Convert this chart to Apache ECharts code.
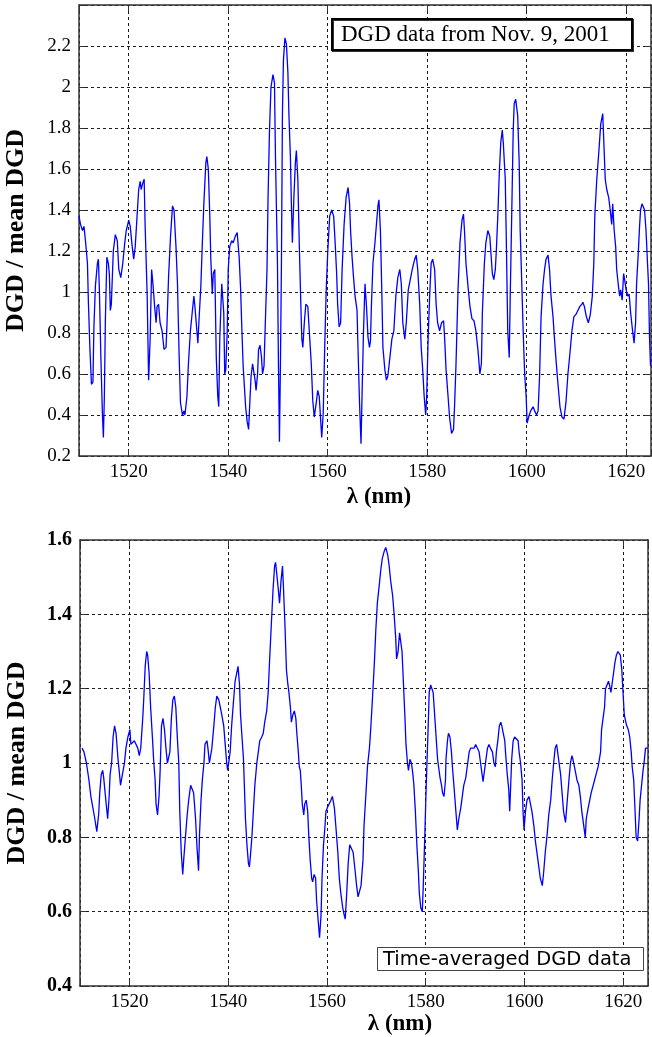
<!DOCTYPE html>
<html>
<head>
<meta charset="utf-8">
<script src="https://cdn.jsdelivr.net/npm/echarts@6/dist/echarts.min.js"></script>
<style>
  html, body { margin: 0; padding: 0; background: #fff; }
  #chart { width: 652px; height: 1037px; }
</style>
</head>
<body>
<div id="chart"></div>
<script>
// DGD / mean DGD versus wavelength (nm), single-day data
const topDGD = [
  [1510.0,1.37],[1510.3,1.33],[1510.7,1.30],[1511.0,1.32],[1511.3,1.25],[1511.7,1.14],[1511.9,0.94],[1512.2,0.72],[1512.5,0.55],[1512.8,0.56],
  [1513.0,0.83],[1513.3,1.03],[1513.7,1.14],[1513.9,1.16],[1514.1,1.01],[1514.4,0.68],[1514.7,0.41],[1514.9,0.29],[1515.1,0.49],[1515.3,0.86],
  [1515.6,1.17],[1515.9,1.14],[1516.1,1.09],[1516.3,0.91],[1516.5,0.94],[1516.9,1.20],[1517.3,1.28],[1517.7,1.25],[1518.0,1.11],[1518.4,1.07],
  [1518.8,1.14],[1519.2,1.24],[1519.5,1.30],[1520.0,1.35],[1520.3,1.32],[1520.7,1.22],[1521.0,1.16],[1521.3,1.22],[1521.7,1.38],[1522.0,1.50],
  [1522.3,1.54],[1522.5,1.50],[1522.8,1.53],[1523.1,1.55],[1523.3,1.32],[1523.7,0.99],[1524.0,0.57],[1524.3,0.77],[1524.6,1.11],[1524.9,1.03],
  [1525.2,0.93],[1525.5,0.85],[1525.7,0.93],[1526.0,0.94],[1526.3,0.85],[1526.7,0.81],[1527.1,0.72],[1527.5,0.73],[1527.7,0.85],[1528.0,1.07],
  [1528.4,1.27],[1528.8,1.42],[1529.1,1.40],[1529.5,1.22],[1529.8,1.04],[1530.1,0.72],[1530.4,0.46],[1530.8,0.40],[1531.1,0.42],[1531.3,0.40],
  [1531.7,0.49],[1532.0,0.65],[1532.4,0.81],[1532.8,0.91],[1533.1,0.98],[1533.3,0.93],[1533.7,0.81],[1533.9,0.75],[1534.1,0.85],[1534.5,1.03],
  [1534.8,1.24],[1535.1,1.43],[1535.5,1.63],[1535.7,1.66],[1536.0,1.60],[1536.3,1.37],[1536.5,1.16],[1536.8,0.99],[1537.0,1.09],[1537.3,1.11],
  [1537.6,0.68],[1537.9,0.49],[1538.1,0.44],[1538.3,0.77],[1538.7,1.04],[1539.1,0.90],[1539.3,0.60],[1539.5,0.62],[1539.8,0.81],
  [1540.0,1.11],[1540.3,1.22],[1540.7,1.25],[1541.0,1.24],[1541.4,1.27],[1541.8,1.29],[1542.2,1.17],[1542.5,1.01],[1542.7,0.85],[1543.0,0.64],
  [1543.3,0.52],[1543.5,0.44],[1543.8,0.37],[1544.1,0.33],[1544.4,0.49],[1544.6,0.59],[1544.9,0.65],[1545.2,0.65],[1545.4,0.57],[1545.6,0.52],
  [1545.9,0.60],[1546.1,0.72],[1546.4,0.74],[1546.7,0.68],[1546.9,0.60],[1547.2,0.64],[1547.5,0.88],[1547.8,1.11],[1548.0,1.45],[1548.3,1.79],
  [1548.6,2.00],[1549.0,2.06],[1549.3,2.02],[1549.5,1.66],[1549.9,1.14],[1550.1,0.65],[1550.3,0.27],[1550.5,0.65],[1550.7,1.14],[1550.9,1.87],
  [1551.1,2.13],[1551.4,2.24],[1551.7,2.21],[1552.0,2.07],[1552.2,1.87],[1552.5,1.66],[1552.7,1.43],[1552.9,1.24],[1553.2,1.46],[1553.5,1.63],
  [1553.7,1.69],[1554.0,1.55],[1554.3,1.22],[1554.6,0.94],[1554.8,0.77],[1555.0,0.73],[1555.3,0.85],[1555.6,0.94],[1556.0,0.93],[1556.3,0.81],
  [1556.7,0.65],[1557.0,0.47],[1557.3,0.39],[1557.7,0.46],[1558.0,0.52],[1558.3,0.49],[1558.6,0.37],[1558.8,0.29],[1559.1,0.41],[1559.4,0.73],
  [1559.7,1.01],[1560.0,1.19],[1560.4,1.37],[1560.8,1.40],[1561.2,1.37],[1561.5,1.24],[1561.8,1.09],[1562.0,0.94],[1562.3,0.83],[1562.6,0.85],
  [1562.9,1.11],[1563.3,1.33],[1563.7,1.46],[1564.1,1.51],[1564.4,1.43],[1564.6,1.30],[1564.9,1.17],[1565.2,1.07],[1565.5,0.98],[1565.9,0.91],
  [1566.1,0.72],[1566.4,0.46],[1566.7,0.26],[1566.9,0.49],[1567.2,0.81],[1567.5,1.04],[1567.8,0.93],[1568.1,0.78],[1568.4,0.73],[1568.6,0.76],
  [1568.8,0.94],[1569.1,1.14],[1569.5,1.24],[1569.8,1.33],[1570.1,1.42],[1570.3,1.45],[1570.6,1.30],[1570.9,0.98],[1571.1,0.73],[1571.5,0.62],
  [1571.8,0.57],[1572.1,0.59],[1572.5,0.68],[1572.9,0.77],[1573.3,0.81],[1573.7,0.98],[1574.1,1.07],[1574.5,1.11],[1574.8,1.04],[1575.1,0.85],
  [1575.5,0.77],[1575.8,0.85],[1576.2,1.01],[1576.6,1.06],[1577.0,1.11],[1577.5,1.16],[1577.8,1.18],[1578.1,1.11],[1578.5,0.94],[1578.8,0.73],
  [1579.1,0.62],[1579.4,0.49],[1579.7,0.40],[1579.9,0.49],[1580.2,0.78],[1580.5,0.98],[1580.8,1.14],[1581.1,1.16],[1581.5,1.11],[1581.8,0.94],
  [1582.1,0.85],[1582.5,0.81],[1582.9,0.85],[1583.3,0.86],[1583.5,0.78],[1583.8,0.62],[1584.2,0.49],[1584.5,0.39],[1584.9,0.31],[1585.3,0.33],
  [1585.5,0.44],[1585.8,0.65],[1586.2,1.01],[1586.6,1.24],[1587.0,1.35],[1587.3,1.38],[1587.5,1.30],[1587.8,1.14],[1588.2,1.03],[1588.6,0.93],
  [1589.0,0.87],[1589.4,0.86],[1589.8,0.81],[1590.2,0.72],[1590.6,0.60],[1590.9,0.65],[1591.1,0.90],[1591.5,1.14],[1591.8,1.24],[1592.2,1.30],
  [1592.6,1.27],[1592.9,1.16],[1593.1,1.09],[1593.4,1.06],[1593.7,1.11],[1593.9,1.20],[1594.2,1.37],[1594.5,1.58],[1594.8,1.73],[1595.1,1.79],
  [1595.3,1.73],[1595.7,1.55],[1595.9,1.27],[1596.2,0.81],[1596.5,0.68],[1596.7,0.98],[1597.0,1.38],[1597.3,1.79],[1597.5,1.92],[1597.8,1.94],
  [1598.2,1.86],[1598.5,1.63],[1598.7,1.30],[1599.0,1.06],[1599.3,0.81],[1599.6,0.60],[1599.9,0.49],[1600.1,0.36],[1600.4,0.39],[1600.8,0.42],
  [1601.3,0.44],[1601.6,0.42],[1602.0,0.40],[1602.3,0.42],[1602.6,0.59],[1602.9,0.88],[1603.3,1.04],[1603.6,1.11],[1603.9,1.16],[1604.3,1.18],
  [1604.6,1.11],[1604.9,0.98],[1605.3,0.88],[1605.6,0.77],[1605.9,0.67],[1606.3,0.55],[1606.7,0.44],[1607.1,0.39],[1607.5,0.38],[1607.9,0.46],
  [1608.3,0.60],[1608.7,0.70],[1609.1,0.81],[1609.5,0.88],[1609.9,0.89],[1610.3,0.91],[1610.7,0.93],[1611.1,0.94],[1611.3,0.95],[1611.6,0.93],
  [1612.0,0.88],[1612.4,0.85],[1612.8,0.89],[1613.2,0.98],[1613.5,1.14],[1613.7,1.37],[1614.1,1.55],[1614.5,1.68],[1614.9,1.82],[1615.3,1.87],
  [1615.5,1.74],[1615.8,1.55],[1616.1,1.50],[1616.5,1.46],[1616.8,1.40],[1617.1,1.33],[1617.3,1.43],[1617.6,1.30],[1617.9,1.22],[1618.1,1.11],
  [1618.4,1.04],[1618.7,0.98],[1618.9,1.01],[1619.2,0.96],[1619.5,1.09],[1619.7,1.06],[1620.0,1.01],[1620.3,0.98],[1620.6,0.99],[1620.9,0.90],
  [1621.3,0.81],[1621.6,0.75],[1621.9,0.85],[1622.1,1.04],[1622.4,1.17],[1622.7,1.32],[1622.9,1.40],[1623.2,1.43],[1623.5,1.43],[1623.7,1.40],
  [1624.0,1.30],[1624.3,1.14],[1624.5,1.04],[1624.7,0.78],[1624.9,0.64]
];

// time-averaged DGD / mean DGD versus wavelength (nm)
const avgDGD = [
  [1510.4,1.04],[1510.8,1.03],[1511.3,1.00],[1511.8,0.955],[1512.2,0.91],[1512.6,0.88],[1513.0,0.85],[1513.4,0.815],[1513.8,0.865],[1514.0,0.92],
  [1514.3,0.97],[1514.6,0.98],[1514.8,0.96],[1515.3,0.89],[1515.6,0.85],[1515.9,0.91],[1516.1,0.97],[1516.4,1.00],[1516.7,1.07],[1517.0,1.10],
  [1517.3,1.08],[1517.7,1.01],[1518.0,0.97],[1518.2,0.94],[1518.6,0.97],[1519.0,1.00],[1519.3,1.04],[1519.7,1.07],[1520.1,1.09],[1520.3,1.05],
  [1520.7,1.05],[1521.0,1.06],[1521.4,1.06],[1521.7,1.04],[1522.0,1.02],[1522.3,1.04],[1522.7,1.12],[1522.9,1.17],[1523.2,1.26],[1523.5,1.30],
  [1523.7,1.29],[1524.0,1.24],[1524.3,1.15],[1524.7,1.06],[1524.9,1.01],[1525.2,0.955],[1525.4,0.89],[1525.7,0.86],[1526.0,0.91],[1526.2,0.97],
  [1526.5,1.10],[1526.8,1.12],[1527.1,1.09],[1527.4,1.04],[1527.7,1.00],[1527.9,0.995],[1528.2,1.03],[1528.5,1.12],[1528.8,1.17],[1529.1,1.18],
  [1529.4,1.15],[1529.7,1.07],[1530.0,1.00],[1530.2,0.87],[1530.5,0.76],[1530.8,0.70],[1531.0,0.74],[1531.4,0.81],[1531.7,0.86],[1532.0,0.90],
  [1532.4,0.94],[1532.7,0.94],[1533.0,0.92],[1533.4,0.85],[1533.7,0.77],[1534.0,0.71],[1534.2,0.81],[1534.5,0.90],[1534.8,0.96],[1535.1,1.00],
  [1535.3,1.05],[1535.7,1.06],[1535.9,1.04],[1536.2,1.00],[1536.4,0.995],[1536.7,1.04],[1537.1,1.10],[1537.4,1.15],[1537.7,1.18],[1538.1,1.17],
  [1538.4,1.15],[1538.7,1.13],[1539.1,1.10],[1539.4,1.05],[1539.7,1.00],[1539.9,0.98],[1540.4,1.03],[1540.7,1.10],[1541.1,1.17],[1541.4,1.22],
  [1541.7,1.24],[1542.0,1.26],[1542.3,1.21],[1542.5,1.13],[1542.8,1.07],[1543.1,1.01],[1543.3,0.93],[1543.5,0.85],[1543.8,0.78],[1544.1,0.73],
  [1544.3,0.72],[1544.5,0.75],[1544.8,0.80],[1545.1,0.87],[1545.4,0.94],[1545.8,1.00],[1546.1,1.03],[1546.4,1.06],[1546.8,1.07],[1547.1,1.08],
  [1547.4,1.11],[1547.8,1.14],[1548.1,1.19],[1548.4,1.28],[1548.8,1.39],[1549.1,1.47],[1549.4,1.53],[1549.6,1.54],[1549.9,1.50],[1550.2,1.46],
  [1550.4,1.43],[1550.7,1.49],[1551.0,1.53],[1551.2,1.47],[1551.5,1.37],[1551.8,1.25],[1552.1,1.21],[1552.3,1.19],[1552.6,1.15],[1552.8,1.11],
  [1553.1,1.13],[1553.4,1.14],[1553.7,1.12],[1553.9,1.08],[1554.2,1.03],[1554.4,0.99],[1554.6,0.98],[1554.8,0.94],[1555.0,0.89],[1555.3,0.86],
  [1555.5,0.89],[1555.8,0.90],[1556.1,0.87],[1556.3,0.81],[1556.6,0.74],[1556.9,0.69],[1557.1,0.68],[1557.4,0.70],[1557.7,0.69],[1557.9,0.63],
  [1558.2,0.58],[1558.5,0.53],[1558.8,0.59],[1559.0,0.69],[1559.3,0.78],[1559.6,0.83],[1559.8,0.87],[1560.1,0.88],[1560.5,0.88],[1560.8,0.90],
  [1561.1,0.91],[1561.5,0.88],[1561.8,0.83],[1562.2,0.76],[1562.5,0.69],[1562.8,0.65],[1563.2,0.61],[1563.5,0.59],[1563.7,0.58],[1564.0,0.65],
  [1564.3,0.73],[1564.6,0.78],[1565.0,0.78],[1565.3,0.76],[1565.7,0.71],[1566.0,0.67],[1566.3,0.64],[1566.7,0.64],[1566.9,0.67],[1567.3,0.74],
  [1567.5,0.83],[1567.9,0.92],[1568.2,0.99],[1568.6,1.04],[1568.9,1.10],[1569.2,1.17],[1569.6,1.27],[1569.9,1.36],[1570.2,1.43],[1570.6,1.48],
  [1570.9,1.52],[1571.2,1.55],[1571.6,1.57],[1571.9,1.58],[1572.3,1.56],[1572.6,1.53],[1572.9,1.49],[1573.3,1.45],[1573.6,1.40],[1573.9,1.34],
  [1574.1,1.28],[1574.4,1.30],[1574.7,1.35],[1574.9,1.35],[1575.2,1.30],[1575.5,1.21],[1575.8,1.12],[1576.0,1.05],[1576.3,1.00],[1576.5,0.98],
  [1576.8,1.01],[1577.1,1.00],[1577.4,0.97],[1577.6,0.94],[1577.9,0.87],[1578.2,0.78],[1578.5,0.71],[1578.7,0.65],[1579.0,0.61],[1579.3,0.60],
  [1579.5,0.67],[1579.8,0.80],[1580.1,0.94],[1580.5,1.10],[1580.7,1.19],[1581.0,1.21],[1581.3,1.21],[1581.5,1.19],[1581.8,1.13],[1582.1,1.07],
  [1582.4,1.01],[1582.6,0.99],[1582.9,0.96],[1583.2,0.94],[1583.4,0.92],[1583.7,0.91],[1584.0,0.955],[1584.1,1.01],[1584.4,1.06],[1584.6,1.08],
  [1584.9,1.07],[1585.2,1.03],[1585.4,0.99],[1585.7,0.94],[1586.1,0.87],[1586.4,0.82],[1586.7,0.85],[1587.1,0.88],[1587.4,0.91],[1587.7,0.94],
  [1588.1,0.96],[1588.4,0.99],[1588.8,1.03],[1589.1,1.04],[1589.4,1.04],[1589.8,1.04],[1590.1,1.05],[1590.4,1.05],[1590.8,1.03],[1591.1,1.00],
  [1591.4,0.97],[1591.6,0.95],[1591.9,0.98],[1592.2,1.01],[1592.5,1.04],[1592.8,1.05],[1593.1,1.04],[1593.5,1.03],[1593.8,1.00],[1594.1,0.99],
  [1594.3,1.03],[1594.6,1.06],[1594.9,1.10],[1595.2,1.11],[1595.4,1.10],[1595.7,1.08],[1596.0,1.06],[1596.2,1.02],[1596.5,0.97],[1596.8,0.93],
  [1597.0,0.87],[1597.2,0.94],[1597.4,1.01],[1597.7,1.06],[1598.0,1.07],[1598.3,1.07],[1598.7,1.06],[1598.9,1.03],[1599.2,1.00],[1599.5,0.955],
  [1599.7,0.87],[1599.9,0.82],[1600.2,0.87],[1600.5,0.90],[1600.9,0.91],[1601.2,0.89],[1601.5,0.87],[1601.9,0.83],[1602.2,0.79],[1602.6,0.75],
  [1602.9,0.72],[1603.2,0.69],[1603.6,0.67],[1603.9,0.71],[1604.2,0.76],[1604.6,0.81],[1604.9,0.86],[1605.3,0.90],[1605.6,0.955],[1605.9,1.00],
  [1606.2,1.04],[1606.5,1.05],[1606.7,1.03],[1607.0,1.00],[1607.3,0.97],[1607.6,0.92],[1607.9,0.87],[1608.3,0.84],[1608.6,0.89],[1609.0,0.955],
  [1609.3,1.00],[1609.6,1.02],[1609.8,1.01],[1610.1,0.99],[1610.4,0.97],[1610.6,0.955],[1611.0,0.94],[1611.3,0.91],[1611.6,0.87],[1612.0,0.83],
  [1612.3,0.80],[1612.5,0.85],[1612.9,0.88],[1613.2,0.90],[1613.5,0.92],[1613.9,0.94],[1614.2,0.955],[1614.5,0.97],[1614.9,0.99],[1615.4,1.03],
  [1615.6,1.09],[1615.9,1.12],[1616.2,1.15],[1616.4,1.20],[1616.7,1.21],[1617.0,1.22],[1617.2,1.21],[1617.5,1.19],[1617.8,1.22],[1618.0,1.24],
  [1618.3,1.27],[1618.6,1.29],[1618.9,1.30],[1619.1,1.30],[1619.4,1.29],[1619.7,1.25],[1619.9,1.20],[1620.2,1.13],[1620.5,1.11],[1620.7,1.10],
  [1621.0,1.09],[1621.3,1.07],[1621.6,1.03],[1621.8,0.99],[1622.1,0.955],[1622.4,0.865],[1622.6,0.80],[1622.9,0.79],[1623.2,0.85],[1623.4,0.90],
  [1623.7,0.94],[1624.0,0.98],[1624.2,1.00],[1624.5,1.04],[1624.8,1.04],[1625.0,1.04]
];

const xRange = [1510, 1625];
const topYRange = [0.2, 2.4];
const avgYRange = [0.4, 1.6];
const yStep = 0.2;
const xLabelStep = 20;

const serif = '"Liberation Serif", "Times New Roman", serif';
const axisColor = '#333';

const gridLine = {
  show: true,
  lineStyle: { color: '#1a1a1a', type: [3, 3], width: 1 }
};

const fmtY = (max) => (v) => (Math.abs(v - max) < 1e-6 ? '' : String(+v.toFixed(1)));
const fmtX = (v) => (Math.round(v) % xLabelStep === 0 ? String(Math.round(v)) : '');

const makeX = (gridIndex, nameGap, shift) => ([
  {
    type: 'value',
    gridIndex,
    min: xRange[0],
    max: xRange[1],
    axisLine: { lineStyle: { color: axisColor, width: 1.5 } },
    axisTick: { inside: true, length: 6, lineStyle: { color: axisColor } },
    axisLabel: {
      formatter: fmtX,
      fontFamily: serif,
      fontSize: 19,
      color: '#000',
      margin: 7
    },
    splitLine: gridLine,
    name: 'λ (nm)',
    nameLocation: 'middle',
    nameGap,
    nameTextStyle: {
      fontFamily: serif,
      fontWeight: 'bold',
      fontSize: 23,
      color: '#000',
      padding: [0, 0, 0, shift * 2]
    }
  },
  {
    type: 'value',
    gridIndex,
    position: 'top',
    min: xRange[0],
    max: xRange[1],
    axisLine: { lineStyle: { color: axisColor, width: 1.5 } },
    axisTick: { inside: true, length: 6, lineStyle: { color: axisColor } },
    axisLabel: { show: false },
    splitLine: { show: false }
  }
]);

const makeY = (gridIndex, range, labelBold) => ([
  {
    type: 'value',
    gridIndex,
    min: range[0],
    max: range[1],
    interval: yStep,
    axisLine: { show: true, lineStyle: { color: axisColor, width: 1.5 } },
    axisTick: { show: true, inside: true, length: 6, lineStyle: { color: axisColor } },
    axisLabel: {
      formatter: gridIndex === 0 ? fmtY(range[1]) : (v) => String(+v.toFixed(1)),
      fontFamily: serif,
      fontSize: labelBold ? 20 : 19,
      fontWeight: labelBold ? 'bold' : 'normal',
      color: '#000',
      margin: 8
    },
    splitLine: gridLine,
    name: 'DGD / mean DGD',
    nameLocation: 'middle',
    nameRotate: 90,
    nameGap: 50,
    nameTextStyle: { fontFamily: serif, fontWeight: 'bold', fontSize: 26, color: '#000' }
  },
  {
    type: 'value',
    gridIndex,
    position: 'right',
    min: range[0],
    max: range[1],
    interval: yStep,
    axisLine: { show: true, lineStyle: { color: axisColor, width: 1.5 } },
    axisTick: { show: true, inside: true, length: 6, lineStyle: { color: axisColor } },
    axisLabel: { show: false },
    splitLine: { show: false }
  }
]);

const lineSeries = (data, idx) => ({
  type: 'line',
  xAxisIndex: idx,
  yAxisIndex: idx,
  data,
  symbol: 'none',
  smooth: false,
  lineStyle: { color: '#0000ff', width: 1.3 },
  z: 3
});

const chart = echarts.init(document.getElementById('chart'), null, { renderer: 'canvas' });

chart.setOption({
  backgroundColor: '#fff',
  animation: false,
  title: [
    {
      text: 'DGD data from Nov. 9, 2001',
      left: 332,
      top: 19,
      padding: [4, 23, 3, 9],
      backgroundColor: '#fff',
      borderColor: '#000',
      borderWidth: 2,
      shadowColor: 'rgba(0,0,0,0.8)',
      shadowOffsetX: 1,
      shadowOffsetY: 1,
      textStyle: { fontFamily: serif, fontSize: 23, lineHeight: 24, fontWeight: 'normal', color: '#000' }
    },
    {
      text: 'Time-averaged DGD data',
      left: 377,
      top: 947,
      padding: [2, 12, 1, 6],
      backgroundColor: '#fff',
      borderColor: '#444',
      borderWidth: 1,
      textStyle: { fontFamily: '"DejaVu Sans", "Liberation Sans", sans-serif', fontSize: 19.5, lineHeight: 21, fontWeight: 'normal', color: '#000' }
    }
  ],
  grid: [
    { left: 79, top: 5, width: 572, height: 451, show: false, outerBoundsMode: 'none' },
    { left: 80, top: 540, width: 568, height: 446, show: false, outerBoundsMode: 'none' }
  ],
  xAxis: [...makeX(0, 30, 14), ...makeX(1, 26, 36)],
  yAxis: [...makeY(0, topYRange, false), ...makeY(1, avgYRange, true)],
  series: [
    lineSeries(topDGD, 0),
    lineSeries(avgDGD, 2)
  ]
});
</script>
</body>
</html>
